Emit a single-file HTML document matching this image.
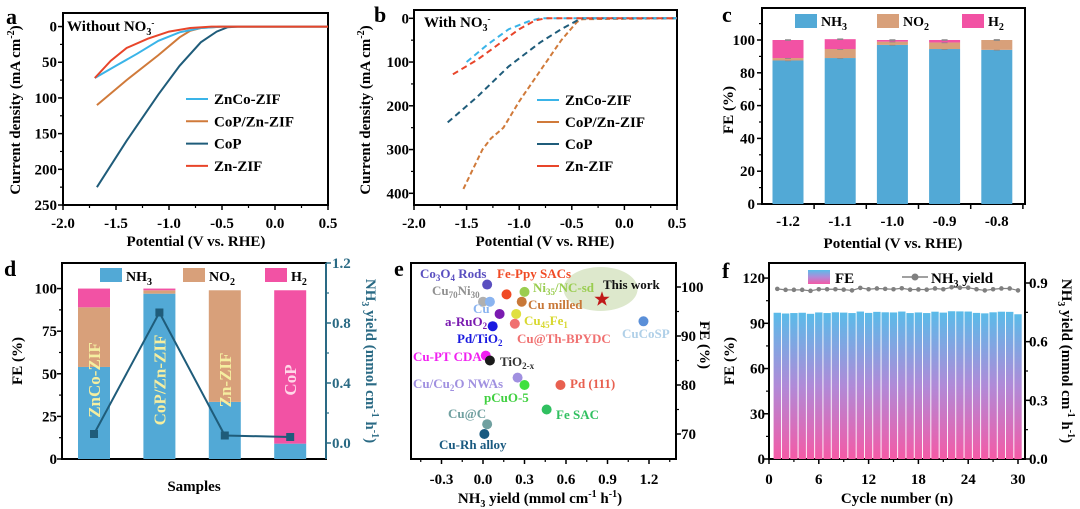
<!DOCTYPE html>
<html><head><meta charset="utf-8"><style>
html,body{margin:0;padding:0;background:#fff;}
svg{display:block;font-family:"Liberation Serif",serif;font-weight:bold;}
</style></head><body>
<svg id="fig" width="1080" height="509" viewBox="0 0 1080 509">
<text x="6" y="24" font-size="22">a</text>
<text x="374" y="22" font-size="22">b</text>
<text x="722" y="22" font-size="22">c</text>
<text x="4" y="276" font-size="22">d</text>
<text x="394" y="276" font-size="22">e</text>
<text x="722" y="278" font-size="22">f</text>
<text x="67" y="31" font-size="15">Without NO<tspan font-size="10" dy="4">3</tspan><tspan font-size="9" dy="-9">-</tspan></text>
<text x="196" y="246" font-size="15" text-anchor="middle">Potential (V vs. RHE)</text>
<text transform="translate(20,110) rotate(-90)" font-size="15" text-anchor="middle">Current density (mA cm<tspan font-size="10" dy="-6">-2</tspan><tspan dy="6">)</tspan></text>
<text x="424" y="27" font-size="15">With NO<tspan font-size="10" dy="4">3</tspan><tspan font-size="9" dy="-9">-</tspan></text>
<text x="545" y="246" font-size="15" text-anchor="middle">Potential (V vs. RHE)</text>
<text transform="translate(370,110) rotate(-90)" font-size="15" text-anchor="middle">Current density (mA cm<tspan font-size="10" dy="-6">-2</tspan><tspan dy="6">)</tspan></text>
<text x="893" y="248" font-size="15" text-anchor="middle">Potential (V vs. RHE)</text>
<text transform="translate(733,110) rotate(-90)" font-size="15" text-anchor="middle">FE (%)</text>
<text x="194" y="491" font-size="15" text-anchor="middle">Samples</text>
<text transform="translate(22,361) rotate(-90)" font-size="15" text-anchor="middle">FE (%)</text>
<text transform="translate(366,361) rotate(90)" font-size="15" text-anchor="middle" fill="#2a6a84">NH<tspan font-size="10" dy="4">3</tspan><tspan dy="-4"> yield (mmol cm</tspan><tspan font-size="10" dy="-6">-1</tspan><tspan dy="6"> h</tspan><tspan font-size="10" dy="-6">-1</tspan><tspan dy="6">)</tspan></text>
<text x="540" y="503" font-size="15" text-anchor="middle">NH<tspan font-size="10" dy="4">3</tspan><tspan dy="-4"> yield (mmol cm</tspan><tspan font-size="10" dy="-6">-1</tspan><tspan dy="6"> h</tspan><tspan font-size="10" dy="-6">-1</tspan><tspan dy="6">)</tspan></text>
<text transform="translate(700,345) rotate(90)" font-size="15" text-anchor="middle">FE (%)</text>
<text x="897" y="503" font-size="15" text-anchor="middle">Cycle number (n)</text>
<text transform="translate(734,361) rotate(-90)" font-size="15" text-anchor="middle">FE (%)</text>
<text transform="translate(1062,361) rotate(90)" font-size="15" text-anchor="middle">NH<tspan font-size="10" dy="4">3</tspan><tspan dy="-4"> yield (mmol cm</tspan><tspan font-size="10" dy="-6">-1</tspan><tspan dy="6"> h</tspan><tspan font-size="10" dy="-6">-1</tspan><tspan dy="6">)</tspan></text>
</svg>
<script>
const aZnCoX=[-1.7,-1.5,-1.3,-1.1,-0.9,-0.7,-0.5,0.5];
const aZnCoY=[72,55,38,20,8,2,0,0];
const aCoPZnX=[-1.68,-1.4,-1.1,-0.9,-0.8,-0.7,-0.5,0.5];
const aCoPZnY=[110,75,40,15,6,2,0,0];
const aCoPX=[-1.68,-1.4,-1.1,-0.9,-0.7,-0.55,-0.45,-0.35,0.5];
const aCoPY=[225,160,95,55,22,7,1,0,0];
const aZnX=[-1.7,-1.55,-1.4,-1.2,-1.0,-0.8,-0.6,0.5];
const aZnY=[72,48,30,17,7,2,0,0];

const bZnCoX=[-1.5,-1.3,-1.1,-0.9,-0.8,0.5];
const bZnCoY=[100,60,25,6,0,0];
const bCoPZnX=[-1.53,-1.35,-1.27,-1.15,-1.0,-0.8,-0.6,-0.45,-0.4,0.5];
const bCoPZnY=[390,300,275,250,190,120,50,8,2,0];
const bCoPX=[-1.68,-1.4,-1.1,-0.8,-0.6,-0.45,-0.4,0.5];
const bCoPY=[238,180,110,55,25,5,0,0];
const bZnX=[-1.63,-1.4,-1.2,-1.0,-0.85,-0.75,0.5];
const bZnY=[128,95,60,25,5,0,0];

const cCats=['-1.2','-1.1','-1.0','-0.9','-0.8'];
const cNH3=[87.5,89,97,94.5,94];
const cNO2=[1.5,5.5,2,4,6];
const cH2=[11,6,1,1.5,0];

const dCats=['ZnCo-ZIF','CoP/Zn-ZIF','Zn-ZIF','CoP'];
const dNH3=[54,97,33.5,9];
const dNO2=[35,2,65.5,0];
const dH2=[11,1,0,90];
const dYield=[0.06,0.87,0.05,0.04];

const eNames=['Co3O4 Rods','Fe-Ppy SACs','Ni35/NC-sd','Cu70Ni30','Cu','Cu milled','a-RuO2','Cu45Fe1','Pd/TiO2','Cu@Th-BPYDC','CuCoSP','Cu-PT CDA','TiO2-x','Cu/Cu2O NWAs','pCuO-5','Pd (111)','Fe SAC','Cu@C','Cu-Rh alloy'];
const eYield=[0.03,0.17,0.3,0.0,0.05,0.28,0.12,0.24,0.07,0.23,1.16,0.02,0.05,0.25,0.3,0.56,0.46,0.03,0.01];
const eFE=[100.5,98.5,99,97,97,97,94.5,94.5,92,92.5,93,86,85,81.5,80,80,75,72,70];
const eColors=['#5a4fc0','#f04a24','#9acd50','#b0b0b0','#8ab4f0','#c87838','#7a1ab0','#e0e040','#1a1ae0','#f07070','#5a8fd8','#f020f0','#1a1a1a','#a090e0','#40e040','#e86050','#30c060','#70a0a0','#1a5a80'];
const eThisYield=[0.86];
const eThisFE=[97.5];

const fCycles=[1,2,3,4,5,6,7,8,9,10,11,12,13,14,15,16,17,18,19,20,21,22,23,24,25,26,27,28,29,30];
const fFE=[97,96.5,96.8,97,96.3,97.2,96.8,97.3,97.1,96.8,97.8,96.9,97.6,97.3,97.2,97.8,96.8,97.2,96.8,97.7,97.1,98,97.9,97.8,96.9,96.6,97.3,97.7,97.6,96];
const fYield=[0.87,0.865,0.865,0.865,0.86,0.868,0.868,0.868,0.866,0.862,0.875,0.868,0.872,0.87,0.868,0.873,0.866,0.867,0.866,0.872,0.868,0.878,0.876,0.876,0.868,0.862,0.868,0.872,0.872,0.862];

const NS='http://www.w3.org/2000/svg';
const svg=document.getElementById('fig');
function mk(tag,attrs,parent,text){const e=document.createElementNS(NS,tag);for(const k in attrs)e.setAttribute(k,attrs[k]);if(text!=null)e.textContent=text;(parent||svg).appendChild(e);return e;}
function lin(d0,d1,r0,r1){return v=>r0+(v-d0)/(d1-d0)*(r1-r0);}
function frame(p,x0,y0,x1,y1,stroke){
  const r=mk('rect',{x:x0,y:y0,width:x1-x0,height:y1-y0,fill:'none',stroke:stroke||'#000','stroke-width':2});
  
  
}
function xTicks(p,sx,vals,labels,y,minor,lblY){
  vals.forEach((v,i)=>{
    const t=mk('line',{x1:sx(v),x2:sx(v),y1:y,y2:y+5,stroke:'#000','stroke-width':1.5});
    
    
    if(labels){const l=mk('text',{x:sx(v),y:lblY,'font-size':15,'text-anchor':'middle'},null,labels[i]);
    
    }
  });
  (minor||[]).forEach(v=>{
    const t=mk('line',{x1:sx(v),x2:sx(v),y1:y,y2:y+3,stroke:'#000','stroke-width':1.2});
    
    
  });
}
function yTicks(p,sy,vals,labels,x,dir,minor,lblX,color){
  const c=color||'#000';
  vals.forEach((v,i)=>{
    const t=mk('line',{x1:x,x2:x+5*dir,y1:sy(v),y2:sy(v),stroke:c,'stroke-width':1.5});
    
    
    const l=mk('text',{x:lblX,y:sy(v)+5,'font-size':15,'text-anchor':dir<0?'end':'start',fill:c},null,labels[i]);
    
    
  });
  (minor||[]).forEach(v=>{
    const t=mk('line',{x1:x,x2:x+3*dir,y1:sy(v),y2:sy(v),stroke:c,'stroke-width':1.2});
    
    
  });
}
function curve(name,sx,sy,xs,ys,color,dash){
  const pts=xs.map((x,i)=>sx(x).toFixed(1)+','+sy(ys[i]).toFixed(1)).join(' ');
  const a={points:pts,fill:'none',stroke:color,'stroke-width':2};
  if(dash)a['stroke-dasharray']=dash;
  const l=mk('polyline',a);
  
  
}
function legLine(name,x,y,color,label,dash){
  const a={x1:x,x2:x+22,y1:y,y2:y,stroke:color,'stroke-width':2};
  if(dash)a['stroke-dasharray']=dash;
  const l=mk('line',a);
  
  
  const t=mk('text',{x:x+28,y:y+5,'font-size':15},null,label);
  
  
}
const C={zc:'#3ab4e8',cz:'#d07a3a',cp:'#1f5c7a',zn:'#e8452a',nh3:'#52a9d6',no2:'#d8a07a',h2:'#f252a4'};
const sers=[['ZnCo-ZIF',C.zc],['CoP/Zn-ZIF',C.cz],['CoP',C.cp],['Zn-ZIF',C.zn]];
function sub(el,main,s){el.appendChild(document.createTextNode(main));const t=document.createElementNS(NS,'tspan');t.setAttribute('font-size','10');t.setAttribute('dy','4');t.textContent=s;el.appendChild(t);}

{const sx=lin(-2,0.5,63,328), sy=lin(-19,250,13,205);
frame('a',63,13,328,205);
xTicks('a',sx,[-2,-1.5,-1,-0.5,0,0.5],['-2.0','-1.5','-1.0','-0.5','0.0','0.5'],205,[-1.75,-1.25,-0.75,-0.25,0.25],228);
yTicks('a',sy,[0,50,100,150,200,250],['0','50','100','150','200','250'],63,-1,[25,75,125,175,225],57);
curve('a-line-cop',sx,sy,aCoPX,aCoPY,C.cp);
curve('a-line-copzn',sx,sy,aCoPZnX,aCoPZnY,C.cz);
curve('a-line-znco',sx,sy,aZnCoX,aZnCoY,C.zc);
curve('a-line-zn',sx,sy,aZnX,aZnY,C.zn);
sers.forEach((s,i)=>legLine('a-legend-'+i,186,99+i*22.3,s[1],s[0]));}

{const sx=lin(-2,0.5,414,677);
const sy2=lin(0,400,18.3,193.3);
frame('b',414,10,677,205);
xTicks('b',sx,[-2,-1.5,-1,-0.5,0,0.5],['-2.0','-1.5','-1.0','-0.5','0.0','0.5'],205,[-1.75,-1.25,-0.75,-0.25,0.25],228);
yTicks('b',sy2,[0,100,200,300,400],['0','100','200','300','400'],414,-1,[50,150,250,350],409);
curve('b-line-copzn',sx,sy2,bCoPZnX,bCoPZnY,C.cz,'5,3');
curve('b-line-cop',sx,sy2,bCoPX,bCoPY,C.cp,'6,4');
curve('b-line-znco',sx,sy2,bZnCoX,bZnCoY,C.zc,'6,4');
curve('b-line-zn',sx,sy2,bZnX,bZnY,C.zn,'6,4');
sers.forEach((s,i)=>legLine('b-legend-'+i,537,100+i*22,s[1],s[0]));}

{const sy=lin(0,120,204,7.2); const x0=762,x1=1025; const step=52.2, bw=31;
const cx=i=>788+i*step;
frame('c',x0,8,x1,204);
yTicks('c',sy,[0,20,40,60,80,100],['0','20','40','60','80','100'],x0,-1,[10,30,50,70,90,110],755);
cCats.forEach((c,i)=>{
  const t=mk('line',{x1:cx(i)+step/2,x2:cx(i)+step/2,y1:204,y2:209,stroke:'#000','stroke-width':1.5});
  
  
  const l=mk('text',{x:cx(i),y:226,'font-size':15,'text-anchor':'middle'},null,c);
  
  
  let base=0;
  [[cNH3,C.nh3,'nh3'],[cNO2,C.no2,'no2'],[cH2,C.h2,'h2']].forEach(s=>{
    const v=s[0][i]; const r=mk('rect',{x:cx(i)-bw/2,y:sy(base+v),width:bw,height:sy(base)-sy(base+v),fill:s[1]});
    
    
    base+=v;
    const e=mk('line',{x1:cx(i)-3,x2:cx(i)+3,y1:sy(base),y2:sy(base),stroke:'#888','stroke-width':1.5});
    
    
  });
});
[[795,'NH','3',C.nh3],[877,'NO','2',C.no2],[962,'H','2',C.h2]].forEach((l,i)=>{
  const r=mk('rect',{x:l[0],y:14,width:22,height:14,fill:l[3]});
  
  
  const t=mk('text',{x:l[0]+26,y:26,'font-size':14});
  sub(t,l[1],l[2]);
  
  
});}

{const sy=lin(0,115,459,263), sr=lin(0,1.2,443,263); const x0=62,x1=326,bw=32;
const cx=i=>94+i*65.4;
frame('d',x0,263,x1,459);
const rax=mk('line',{x1:x1,x2:x1,y1:263,y2:459,stroke:'#2a6a84','stroke-width':2});


yTicks('d',sy,[0,25,50,75,100],['0','25','50','75','100'],x0,-1,[12.5,37.5,62.5,87.5],57);
yTicks('d-right',sr,[0,0.4,0.8,1.2],['0.0','0.4','0.8','1.2'],x1,1,[0.2,0.6,1.0],332,'#2a6a84');
dCats.forEach((c,i)=>{
  let base=0;
  [[dNH3,C.nh3,'nh3'],[dNO2,C.no2,'no2'],[dH2,C.h2,'h2']].forEach(s=>{
    const v=s[0][i]; const r=mk('rect',{x:cx(i)-bw/2,y:sy(base+v),width:bw,height:sy(base)-sy(base+v),fill:s[1]});
    
    
    base+=v;
  });
  const l=mk('text',{transform:'translate('+(cx(i)+6)+',380) rotate(-90)','font-size':17,'text-anchor':'middle',fill:i==3?'#ffd8e8':'#f5eea0'},null,c);
  
  
});
const pts=dYield.map((v,i)=>cx(i)+','+sr(v)).join(' ');
const pl=mk('polyline',{points:pts,fill:'none',stroke:C.cp,'stroke-width':2});


dYield.forEach((v,i)=>{
  const m=mk('rect',{x:cx(i)-4,y:sr(v)-4,width:8,height:8,fill:C.cp});
  
  
});
[[100,'NH','3',C.nh3],[183,'NO','2',C.no2],[265,'H','2',C.h2]].forEach((l,i)=>{
  const r=mk('rect',{x:l[0],y:268,width:22,height:14,fill:l[3]});
  
  
  const t=mk('text',{x:l[0]+26,y:281,'font-size':14});
  sub(t,l[1],l[2]);
  
  
});}

{const sx=lin(0,1.2,483,649), sy=lin(70,100,434,287);
frame('e',411,263,676,459);
const ell=mk('ellipse',{cx:sx(0.85),cy:sy(99.6),rx:37,ry:22,fill:'#dde8cc'});


xTicks('e',sx,[-0.3,0,0.3,0.6,0.9,1.2],['-0.3','0.0','0.3','0.6','0.9','1.2'],459,[-0.45,-0.15,0.15,0.45,0.75,1.05,1.35],484);
yTicks('e',sy,[70,80,90,100],['70','80','90','100'],676,1,[75,85,95],681);
eYield.forEach((v,i)=>{
  const c=mk('circle',{cx:sx(v),cy:sy(eFE[i]),r:5,fill:eColors[i]});
  
  
});
eThisYield.forEach((v,i)=>{
  const X=sx(v),Y=sy(eThisFE[i]);let p='';
  for(let k=0;k<10;k++){const a=-Math.PI/2+k*Math.PI/5,r=k%2?3.2:8;p+=(X+r*Math.cos(a)).toFixed(1)+','+(Y+r*Math.sin(a)).toFixed(1)+' ';}
  const s=mk('polygon',{points:p,fill:'#c01818'});
  
  
});}

{const sx=lin(0,30,769,1018), sy=lin(0,130,459,263), sr=lin(0,0.9,459,283);
const defs=mk('defs',{});
const g=mk('linearGradient',{id:'fg',x1:0,y1:0,x2:0,y2:1},defs);
mk('stop',{offset:'0','stop-color':'#5abbe9'},g);
mk('stop',{offset:'0.5','stop-color':'#b08ad8'},g);
mk('stop',{offset:'1','stop-color':'#f45aa6'},g);
frame('f',769,263,1025,459);
fCycles.forEach((c,i)=>{
  const r=mk('rect',{x:sx(c)-3.7,y:sy(fFE[i]),width:7.4,height:459-sy(fFE[i]),fill:'url(#fg)'});
  
  
});
xTicks('f',sx,[0,6,12,18,24,30],['0','6','12','18','24','30'],459,[3,9,15,21,27],484);
yTicks('f',sy,[0,30,60,90,120],['0','30','60','90','120'],769,-1,[15,45,75,105],765);
yTicks('f-right',sr,[0,0.3,0.6,0.9],['0.0','0.3','0.6','0.9'],1025,1,[0.15,0.45,0.75],1029);
const pts=fCycles.map((c,i)=>sx(c)+','+sr(fYield[i])).join(' ');
const pl=mk('polyline',{points:pts,fill:'none',stroke:'#808080','stroke-width':1.2});


fCycles.forEach((c,i)=>{
  const m=mk('circle',{cx:sx(c),cy:sr(fYield[i]),r:2.3,fill:'#808080'});
  
  
});
const ls=mk('rect',{x:808,y:270,width:22,height:14,fill:'url(#fg)'});


const lt=mk('text',{x:835,y:283,'font-size':15},null,'FE');


const ll=mk('line',{x1:902,x2:928,y1:277,y2:277,stroke:'#808080','stroke-width':1.5});


const lc=mk('circle',{cx:915,cy:277,r:3.5,fill:'#808080'});


const ly=mk('text',{x:931,y:283,'font-size':15});
sub(ly,'NH','3');
const tail=document.createElementNS(NS,'tspan');tail.setAttribute('dy','-4');tail.textContent=' yield';ly.appendChild(tail);

}
</script>
<div style="position:absolute;left:0;top:0;width:1080px;height:509px;pointer-events:none">
<svg width="1080" height="509" style="font-family:'Liberation Serif',serif;font-weight:bold;font-size:13px">
<text x="420" y="278" fill="#5a4fc0">Co<tspan font-size="9" dy="3">3</tspan><tspan dy="-3">O</tspan><tspan font-size="9" dy="3">4</tspan><tspan dy="-3"> Rods</tspan></text>
<text x="497" y="278" fill="#f04a24">Fe-Ppy SACs</text>
<text x="432" y="295" fill="#909090">Cu<tspan font-size="9" dy="3">70</tspan><tspan dy="-3">Ni</tspan><tspan font-size="9" dy="3">30</tspan></text>
<text x="533" y="292" fill="#9acd50">Ni<tspan font-size="9" dy="3">35</tspan><tspan dy="-3">/NC-sd</tspan></text>
<text x="473" y="313" fill="#8ab4f0">Cu</text>
<text x="528" y="309" fill="#c87838">Cu milled</text>
<text x="445" y="326" fill="#7a1ab0">a-RuO<tspan font-size="9" dy="3">2</tspan></text>
<text x="524" y="325" fill="#d8d830">Cu<tspan font-size="9" dy="3">45</tspan><tspan dy="-3">Fe</tspan><tspan font-size="9" dy="3">1</tspan></text>
<text x="457" y="343" fill="#1a1ae0">Pd/TiO<tspan font-size="9" dy="3">2</tspan></text>
<text x="517" y="343" fill="#f07070">Cu@Th-BPYDC</text>
<text x="622" y="338" fill="#b0d0e8">CuCoSP</text>
<text x="603" y="289" fill="#111">This work</text>
<text x="413" y="361" fill="#f020f0">Cu-PT CDA</text>
<text x="500" y="366" fill="#333">TiO<tspan font-size="9" dy="3">2-x</tspan></text>
<text x="413" y="388" fill="#a090e0">Cu/Cu<tspan font-size="9" dy="3">2</tspan><tspan dy="-3">O NWAs</tspan></text>
<text x="570" y="388" fill="#e86050">Pd (111)</text>
<text x="484" y="402" fill="#40d040">pCuO-5</text>
<text x="556" y="419" fill="#30c060">Fe SAC</text>
<text x="448" y="418" fill="#70a0a0">Cu@C</text>
<text x="439" y="449" fill="#1a5a80">Cu-Rh alloy</text>
</svg></div>
</body></html>
